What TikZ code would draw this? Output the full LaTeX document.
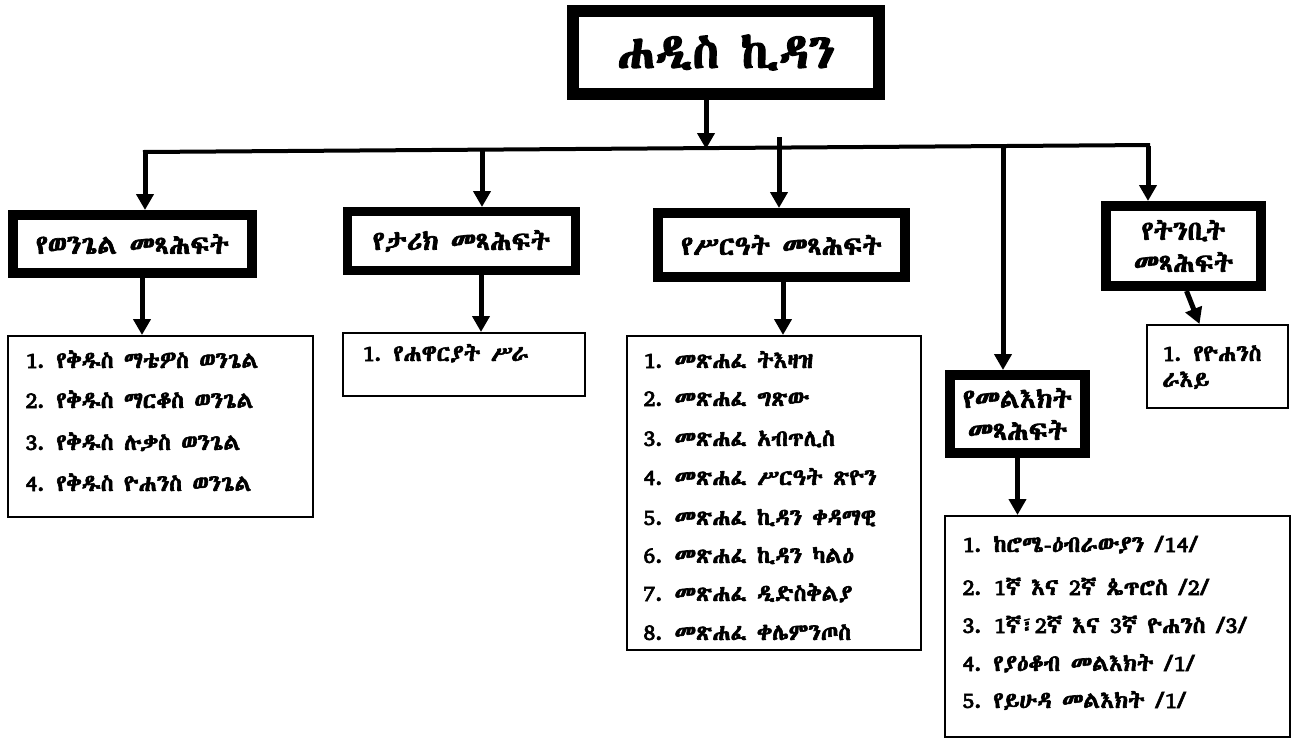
\documentclass[tikz,border=0pt]{standalone}
\usepackage{fontspec}
\usetikzlibrary{arrows.meta}
\newfontfamily\eth{Abyssinica SIL}
\newfontfamily\ethb{Abyssinica SIL}[FakeBold=2.6]
\tikzset{
  catbox/.style={draw=black, line width=10pt, fill=white, inner sep=0pt, align=center,
    font=\ethb\fontsize{27}{32}\selectfont},
  listbox/.style={draw=black, line width=2pt, fill=white, inner sep=0pt},
  item/.style={anchor=base west, inner sep=0pt, font=\ethb\fontsize{23}{26}\selectfont},
  arr/.style={line width=5pt, -{Triangle[length=16pt,width=17pt]}},
  bus/.style={line width=4pt}
}
\begin{document}
\begin{tikzpicture}[x=1pt,y=-1pt]
\useasboundingbox[fill=white] (0,0) rectangle (1296,740);

% title
\node[catbox, line width=12pt, minimum width=306pt, minimum height=83pt,
  font=\ethb\fontsize{48}{52}\selectfont] (top) at (726,52.5) {ሐዲስ ኪዳን};

% category boxes
\node[catbox, minimum width=239pt, minimum height=58pt] (b1) at (132.5,244) {የወንጌል መጻሕፍት};
\node[catbox, line width=9pt, minimum width=228pt, minimum height=59pt] (b2) at (461.5,241) {የታሪክ መጻሕፍት};
\node[catbox, minimum width=247pt, minimum height=64pt] (b3) at (781.5,245) {የሥርዓት መጻሕፍት};
\node[catbox, minimum width=135pt, minimum height=78pt] (b4) at (1017.5,414) {የመልእክት\\መጻሕፍት};
\node[catbox, minimum width=155pt, minimum height=80pt] (b5) at (1183.5,246) {የትንቢት\\መጻሕፍት};

% list boxes
\node[listbox, minimum width=305pt, minimum height=181pt] (l1) at (160.5,426.5) {};
\node[listbox, minimum width=242pt, minimum height=63pt] (l2) at (464,364.5) {};
\node[listbox, minimum width=294pt, minimum height=314pt] (l3) at (774,493) {};
\node[listbox, minimum width=345pt, minimum height=221pt] (l4) at (1117.5,626.5) {};
\node[listbox, minimum width=141pt, minimum height=83pt] (l5) at (1217.5,366.5) {};

% list items
\node[item] (l1a) at (25,368) {1.\enspace የቅዱስ ማቴዎስ ወንጌል};
\node[item] (l1b) at (25,408) {2.\enspace የቅዱስ ማርቆስ ወንጌል};
\node[item] (l1c) at (25,450) {3.\enspace የቅዱስ ሉቃስ ወንጌል};
\node[item] (l1d) at (25,491) {4.\enspace የቅዱስ ዮሐንስ ወንጌል};

\node[item] (l2a) at (362,361) {1.\enspace የሐዋርያት ሥራ};

\node[item] (l3a) at (643,368) {1.\enspace መጽሐፈ ትእዛዝ};
\node[item] (l3b) at (643,406) {2.\enspace መጽሐፈ ግጽው};
\node[item] (l3c) at (643,446) {3.\enspace መጽሐፈ አብጥሊስ};
\node[item] (l3d) at (643,485) {4.\enspace መጽሐፈ ሥርዓት ጽዮን};
\node[item] (l3e) at (643,525) {5.\enspace መጽሐፈ ኪዳን ቀዳማዊ};
\node[item] (l3f) at (643,563) {6.\enspace መጽሐፈ ኪዳን ካልዕ};
\node[item] (l3g) at (643,601) {7.\enspace መጽሐፈ ዲድስቅልያ};
\node[item] (l3h) at (643,640) {8.\enspace መጽሐፈ ቀሌምንጦስ};

\node[item] (l4a) at (962,552) {1.\enspace ከሮሜ-ዕብራውያን /14/};
\node[item] (l4b) at (962,595) {2.\enspace 1ኛ እና 2ኛ ጴጥሮስ /2/};
\node[item] (l4c) at (962,633) {3.\enspace 1ኛ፣2ኛ እና 3ኛ ዮሐንስ /3/};
\node[item] (l4d) at (962,671) {4.\enspace የያዕቆብ መልእክት /1/};
\node[item] (l4e) at (962,708) {5.\enspace የይሁዳ መልእክት /1/};

\node[item] (l5a) at (1162,361) {1.\enspace የዮሐንስ};
\node[item] (l5b) at (1162,387) {ራእይ};

% connectors
\coordinate (t0) at ([xshift=-20pt]top.south);
\coordinate (j0) at (706,149);
\coordinate (busL) at (143,152);
\coordinate (busR) at (1150,145);
\draw[bus] (busL) -- (busR);
\draw[arr] (t0) -- (j0);

\coordinate (d1) at (145,152);
\coordinate (d2) at (482,150);
\coordinate (d3) at (779,137);
\coordinate (d4) at (1003,147);
\coordinate (d5) at (1148,146);
\draw[arr] (d1) -- (d1 |- b1.north);
\draw[arr] (d2) -- (d2 |- b2.north);
\draw[arr] (d3) -- (d3 |- b3.north);
\draw[arr] (d4) -- (d4 |- b4.north);
\draw[arr] (d5) -- (d5 |- b5.north);

\draw[arr] ([xshift=9.5pt]b1.south) -- ([xshift=9.5pt]b1.south |- l1.north);
\draw[arr] ([xshift=19.5pt]b2.south) -- ([xshift=19.5pt]b2.south |- l2.north);
\draw[arr] ([xshift=1.5pt]b3.south) -- ([xshift=1.5pt]b3.south |- l3.north);
\draw[arr] (b4.south) -- (b4.south |- l4.north);
\draw[arr] ([xshift=3pt]b5.south) -- ([xshift=-18pt]l5.north);
\end{tikzpicture}
\end{document}
